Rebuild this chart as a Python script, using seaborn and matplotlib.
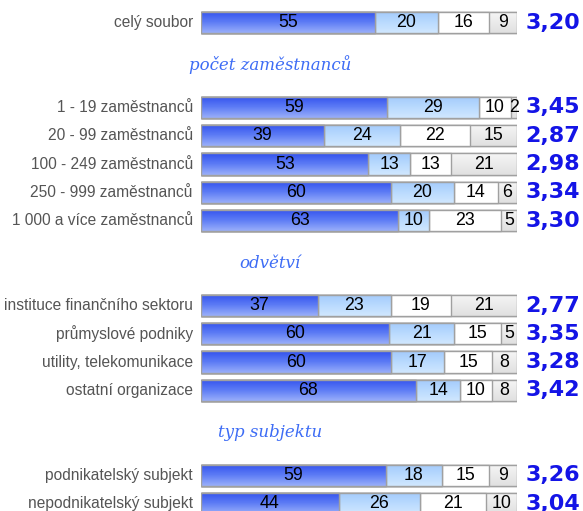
import numpy as np
import pandas as pd
import matplotlib
matplotlib.use("Agg")
import matplotlib.pyplot as plt
from matplotlib.colors import LinearSegmentedColormap
from matplotlib import font_manager
import seaborn as sns

# Survey answers by respondent group (percent of respondents)
labels = [
    "celý soubor",
    "1 - 19 zaměstnanců", "20 - 99 zaměstnanců", "100 - 249 zaměstnanců",
    "250 - 999 zaměstnanců", "1 000 a více zaměstnanců",
    "instituce finančního sektoru", "průmyslové podniky",
    "utility, telekomunikace", "ostatní organizace",
    "podnikatelský subjekt", "nepodnikatelský subjekt",
]
share_1 = [55, 59, 39, 53, 60, 63, 37, 60, 60, 68, 59, 44]
share_2 = [20, 29, 24, 13, 20, 10, 23, 21, 17, 14, 18, 26]
share_3 = [16, 10, 22, 13, 14, 23, 19, 15, 15, 10, 15, 21]
share_4 = [9, 2, 15, 21, 6, 5, 21, 5, 8, 8, 9, 10]
scores = [3.20, 3.45, 2.87, 2.98, 3.34, 3.30, 2.77, 3.35, 3.28, 3.42, 3.26, 3.04]

headings = ["počet zaměstnanců", "odvětví", "typ subjektu"]

# Vertical layout: row slots, with blank slots reserved for group headings
row_slots = [0, 3, 4, 5, 6, 7, 10, 11, 12, 13, 16, 17]
heading_slots = [1.5, 8.5, 14.5]

sns.set_theme(style="white")
plt.rcParams["font.family"] = ["Liberation Sans", "DejaVu Sans"]

installed = {f.name for f in font_manager.fontManager.ttflist}
narrow = "Liberation Sans Narrow" in installed
label_family = ["Liberation Sans Narrow"] if narrow else ["Liberation Sans"]
label_size = 13.5 if narrow else 11.2

W, H = 583, 511
fig = plt.figure(figsize=(W / 100, H / 100), dpi=100)
bar_left_px, bar_right_px = 201, 517
ax = fig.add_axes([bar_left_px / W, 0, (bar_right_px - bar_left_px) / W, 1])

parts = np.array([share_1, share_2, share_3, share_4], dtype=float)
pct = parts / parts.sum(axis=0) * 100
cum = np.cumsum(pct, axis=0)

df = pd.DataFrame({"slot": row_slots})
for i in range(4):
    df[f"c{i}"] = cum[i]

fills = ["#5a78f4", "#b4d8ff", "#ffffff", "#ececec"]
gradients = [
    ["#3352ee", "#5d7cf5", "#9aaffa"],
    ["#a3cafc", "#b9dafe", "#d0e7ff"],
    None,
    ["#f6f6f6", "#ebebeb", "#e0e0e0"],
]
bar_h = 0.75
edge = "#a0a0a0"

# Stack drawn back to front: widest cumulative bar first
for i in [3, 2, 1, 0]:
    before = len(ax.patches)
    sns.barplot(data=df, x=f"c{i}", y="slot", orient="h", native_scale=True,
                width=bar_h, color=fills[i], saturation=1, edgecolor=edge,
                linewidth=1.0, ax=ax, zorder=2 + 2 * (3 - i))
    new_patches = ax.patches[before:]
    if gradients[i] is not None:
        cmap = LinearSegmentedColormap.from_list(f"g{i}", gradients[i])
        grad = np.linspace(0, 1, 64).reshape(-1, 1)
        for p in new_patches:
            x0, y0 = p.get_x(), p.get_y()
            w, h = p.get_width(), p.get_height()
            im = ax.imshow(grad, cmap=cmap, aspect="auto",
                           extent=(x0, x0 + w, y0 + h, y0),
                           origin="upper", zorder=2 + 2 * (3 - i) + 0.5,
                           interpolation="bilinear")
            im.set_clip_path(p)
        # redraw the outlines above the gradient
        for p in new_patches:
            ax.add_patch(plt.Rectangle((p.get_x(), p.get_y()), p.get_width(),
                                       p.get_height(), fill=False,
                                       edgecolor=edge, linewidth=1.0,
                                       zorder=2 + 2 * (3 - i) + 0.8))

# Segment values
for r, slot in enumerate(row_slots):
    start = 0.0
    for i in range(4):
        mid = start + pct[i, r] / 2
        ax.text(mid, slot, f"{parts[i, r]:.0f}", ha="center", va="center",
                fontsize=12.8, color="#000000", zorder=20)
        start = cum[i, r]

# Row labels and mean scores
for r, slot in enumerate(row_slots):
    ax.text(-2.6, slot, labels[r], ha="right", va="center",
            fontsize=label_size, family=label_family + ["DejaVu Sans"],
            color="#555555", clip_on=False)
    ax.text(120.0, slot, f"{scores[r]:.2f}".replace(".", ","), ha="right",
            va="center", fontsize=16, fontweight="bold", color="#1414e6",
            family="DejaVu Sans", clip_on=False)

# Group headings
for slot, text in zip(heading_slots, headings):
    ax.text(21.8, slot, text, ha="center", va="center", fontsize=12,
            style="italic", family="DejaVu Serif", color="#3d6cf5", clip_on=False)

px_per_slot = 28.3
top_px = 22.5
ax.set_xlim(0, 100)
ax.set_ylim((H - top_px) / px_per_slot, -top_px / px_per_slot)
ax.axis("off")

fig.savefig("out.png", dpi=100)
